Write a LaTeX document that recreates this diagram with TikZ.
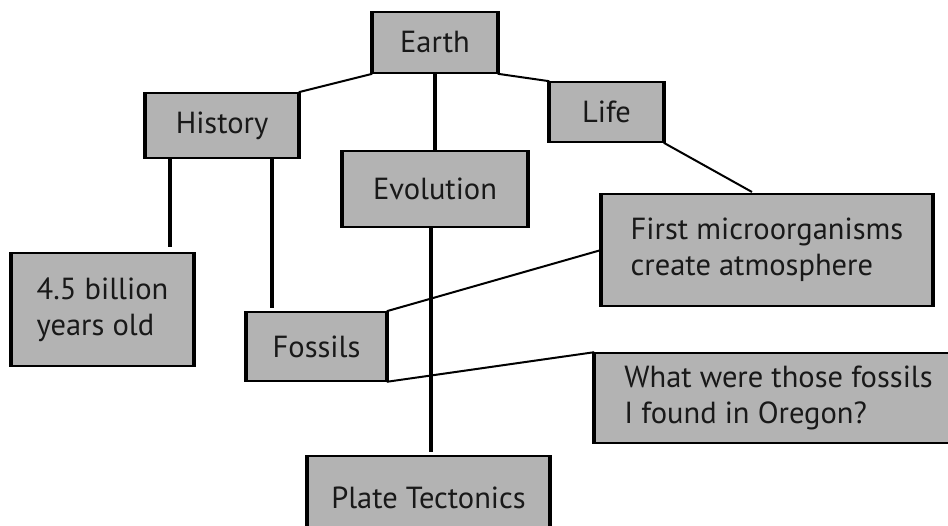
\documentclass[tikz,border=0pt]{standalone}
\usepackage{fontspec}
\setmainfont{PT Sans}
\definecolor{boxgray}{HTML}{B3B3B3}
\begin{document}
\begin{tikzpicture}[x=1pt,y=-1pt,
  box/.style={fill=boxgray, draw=black, line width=1.6pt, inner sep=0pt,
    align=left, font=\fontsize{30.5}{36}\selectfont, text=black!90},
  thin link/.style={line width=2pt},
  thick link/.style={line width=3.6pt},
  side/.style={line width=3.6pt}]
\useasboundingbox (0,0) rectangle (948,526);
\node[box, minimum width=124pt, minimum height=61pt] (earth) at (435,42.5) {Earth};
\node[box, minimum width=152pt, minimum height=65pt] (history) at (222,125.5) {History};
\node[box, minimum width=113pt, minimum height=60pt] (life) at (606.5,112) {Life};
\node[box, minimum width=184pt, minimum height=76pt] (evolution) at (435,189) {Evolution};
\node[box, minimum width=330pt, minimum height=112pt] (micro) at (767,250) {First microorganisms\\create atmosphere};
\node[box, minimum width=181pt, minimum height=113pt] (billion) at (102.5,309.5) {4.5 billion\\years old};
\node[box, minimum width=139pt, minimum height=69pt] (fossils) at (316.5,346.5) {Fossils};
\node[box, minimum width=367pt, minimum height=90pt] (what) at (778.5,398) {What were those fossils\\I found in Oregon?};
\node[box, minimum width=241pt, minimum height=84pt] (plate) at (428.5,498) {Plate Tectonics};
\foreach \n in {earth,history,life,evolution,micro,billion,fossils,what,plate}
  \draw[side] (\n.north west) -- (\n.south west) (\n.north east) -- (\n.south east);
\coordinate (h1) at (170,247);
\coordinate (h2) at (272,308);
\coordinate (e1) at (431,452);
\coordinate (m1) at (752,192);
\draw[thin link] (earth.south west) -- (history.north east);
\draw[thin link] (earth.south east) -- (life.north west);
\draw[thick link] (earth.south) -- (evolution.north);
\draw[thick link] (history.south -| h1) -- (h1);
\draw[thick link] (history.south -| h2) -- (h2);
\draw[thick link] (evolution.south -| e1) -- (e1);
\draw[thin link] (life.south east) -- (m1);
\draw[thin link] (fossils.north east) -- (micro.west);
\draw[thin link] (fossils.south east) -- (what.north west);
\end{tikzpicture}
\end{document}
